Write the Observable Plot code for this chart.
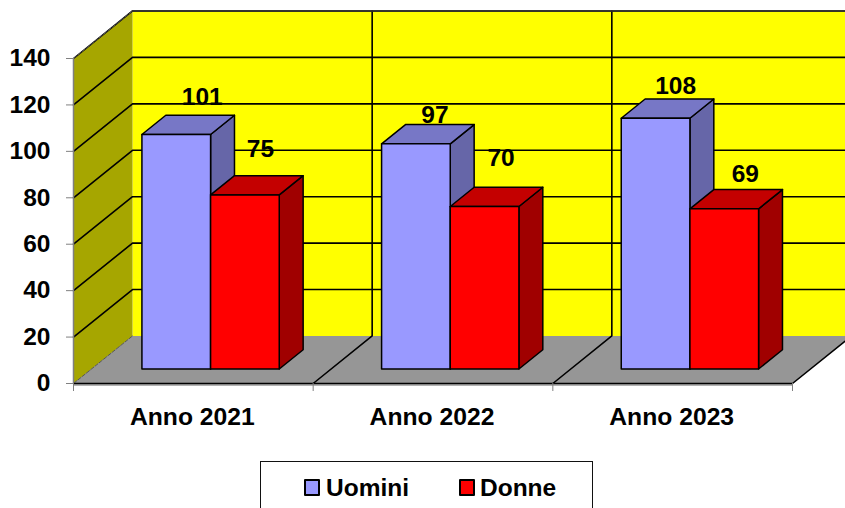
<!DOCTYPE html>
<html>
<head>
<meta charset="utf-8">
<script src="https://cdn.jsdelivr.net/npm/d3@7"></script>
<script src="https://cdn.jsdelivr.net/npm/@observablehq/plot@0.6"></script>
<style>
  html, body { margin: 0; padding: 0; background: #fff; width: 845px; height: 508px; overflow: hidden; }
  #chart { position: relative; width: 845px; height: 461px; }
  #legend { position: absolute; left: 260px; top: 461px; width: 333px; height: 47px; box-sizing: border-box;
            border: 1px solid #111; border-bottom: none; background: #fff;
            font: bold 24.5px "Liberation Sans", Arial, sans-serif; color: #000; }
  #legend .sw { position: absolute; top: 17px; width: 12px; height: 13px; border: 2px solid #000; border-radius: 1px; }
  #legend .tx { position: absolute; top: 12px; line-height: 27px; white-space: nowrap; }
</style>
</head>
<body>
<div id="chart"></div>
<div id="legend"></div>
<script>
const anni = ["Anno 2021", "Anno 2022", "Anno 2023"];
const uomini = [101, 97, 108];
const donne = [75, 70, 69];
const yTicks = [0, 20, 40, 60, 80, 100, 120, 140];
const serieNomi = ["Uomini", "Donne"];

// Per-label pixel nudges from the bar's top centre (as placed in the picture)
const nudgeUomini = [[26, -37], [19, -29], [20, -32]];
const nudgeDonne = [[15.5, -46], [16.5, -48], [21, -35]];

// Oblique projection, all in data units
const depthX = 59 / 239.67, depthY = 47.5 / 2.32;
const project = (c, v, d) => ({x: c + d * depthX, y: v + d * depthY});
const barStart = 0.2104, barW = 0.2865, barFront = 0.305, barDepth = 0.405;
const yMax = 140, nCat = anni.length;

let pid = 0;
const wallPolys = [], barPolys = [];
function face(target, pts, fill) {
  const id = pid++;
  pts.forEach(([c, v, d]) => target.push({...project(c, v, d), id, fill}));
}
// walls and floor
face(wallPolys, [[0,0,1],[nCat,0,1],[nCat,yMax,1],[0,yMax,1]], "#ffff00");
face(wallPolys, [[0,0,0],[0,0,1],[0,yMax,1],[0,yMax,0]], "#a6a600");
face(wallPolys, [[0,0,0],[nCat,0,0],[nCat,0,1],[0,0,1]], "#969696");

// grid lines
const grid = [];
let gid = 0;
yTicks.filter(v => v > 0).forEach(v => {
  const id = gid++;
  [[0,v,0],[0,v,1],[nCat,v,1]].forEach(([c,w,d]) => grid.push({...project(c,w,d), id}));
});
d3.range(1, nCat + 1).forEach(c => {
  const id = gid++;
  const pts = c < nCat ? [[c,0,0],[c,0,1],[c,yMax,1]] : [[c,0,0],[c,0,1]];
  pts.forEach(([k,w,d]) => grid.push({...project(k,w,d), id}));
});

const pal = {
  Uomini: {front: "#9999ff", top: "#7777c6", side: "#6666a8"},
  Donne:  {front: "#ff0000", top: "#c40000", side: "#a00000"}
};
function bar(cat, slot, value, colors) {
  const l = cat + barStart + slot * barW, r = l + barW;
  const f = barFront, b = barFront + barDepth;
  face(barPolys, [[r,0,f],[r,0,b],[r,value,b],[r,value,f]], colors.side);
  face(barPolys, [[l,value,f],[r,value,f],[r,value,b],[l,value,b]], colors.top);
  face(barPolys, [[l,0,f],[r,0,f],[r,value,f],[l,value,f]], colors.front);
}
anni.forEach((_, i) => {
  bar(i, 0, uomini[i], pal.Uomini);
  bar(i, 1, donne[i], pal.Donne);
});

const fontFamily = "Liberation Sans, Arial, sans-serif";
const labelFont = {fontSize: 24.5, fontWeight: "bold", fontFamily, fill: "#000"};
function label(i, slot, value, nudge) {
  const p = project(i + barStart + (slot + 0.5) * barW, value, barFront);
  return Plot.text([{...p, t: String(value)}], {x: "x", y: "y", text: "t", dx: nudge[0], dy: nudge[1],
    textAnchor: "middle", lineAnchor: "middle", ...labelFont});
}

const fig = Plot.plot({
  width: 845, height: 461,
  marginLeft: 73, marginRight: 53, marginTop: 58, marginBottom: 78,
  style: {background: "#fff", overflow: "hidden"},
  x: {domain: [0, nCat], range: [73, 792], label: null},
  y: {domain: [0, yMax], range: [383, 58], label: null},
  marks: [
    Plot.line(wallPolys, {x: "x", y: "y", z: "id", fill: d => d.fill, stroke: "none", curve: "linear-closed"}),
    Plot.line(grid, {x: "x", y: "y", z: "id", stroke: "#000", strokeWidth: 1.6}),
    // wall outlines
    Plot.line([project(0,yMax,0), project(0,yMax,1)], {x: "x", y: "y", stroke: "#555", strokeWidth: 1, strokeDasharray: "4,1.5"}),
    Plot.line([project(0,0,0), project(0,0,1)], {x: "x", y: "y", stroke: "#555", strokeWidth: 1, strokeDasharray: "4,1.5"}),
    Plot.line([project(0,yMax,1), project(nCat,yMax,1)], {x: "x", y: "y", stroke: "#333", strokeWidth: 1.6}),
    // axis lines
    Plot.ruleY([0], {x1: 0, x2: nCat, stroke: "#999", strokeWidth: 1.5, dy: 1.5}),
    Plot.ruleY([0], {x1: 0, x2: nCat, stroke: "#000", strokeWidth: 1.5}),
    Plot.ruleX([0], {y1: 0, y2: yMax, stroke: "#808080", strokeWidth: 1.5}),
    Plot.axisY({ticks: yTicks, tickSize: 7, tickPadding: 16, stroke: "#808080", tickFormat: d => String(d), textStroke: "none",
      fontSize: 24.5, fontWeight: "bold", fontFamily, fill: "#000", label: null, dy: 0}),
    Plot.axisX({ticks: d3.range(0, nCat + 1), tickSize: 8, stroke: "#808080", tickFormat: () => "", label: null}),
    Plot.axisX({ticks: anni.map((_, i) => i + 0.5), tickSize: 0, tickPadding: 23.5, dx: -1,
      tickFormat: d => anni[Math.floor(d)], fontSize: 24.7, fontWeight: "bold",
      fontFamily, fill: "#000", label: null}),
    // bars
    Plot.line(barPolys, {x: "x", y: "y", z: "id", fill: d => d.fill, stroke: "#000", strokeWidth: 1.5,
      strokeLinejoin: "round", curve: "linear-closed"}),
    ...anni.map((_, i) => label(i, 0, uomini[i], nudgeUomini[i])),
    ...anni.map((_, i) => label(i, 1, donne[i], nudgeDonne[i]))
  ]
});
document.getElementById("chart").appendChild(fig);

// legend (box runs off the bottom of the picture in the reference)
const legend = document.getElementById("legend");
const positions = [[43, 65], [198, 219]];
serieNomi.forEach((name, i) => {
  const sw = document.createElement("span");
  sw.className = "sw";
  sw.style.left = positions[i][0] + "px";
  sw.style.background = pal[name].front;
  legend.appendChild(sw);
  const tx = document.createElement("span");
  tx.className = "tx";
  tx.style.left = positions[i][1] + "px";
  tx.textContent = name;
  legend.appendChild(tx);
});
</script>
</body>
</html>
